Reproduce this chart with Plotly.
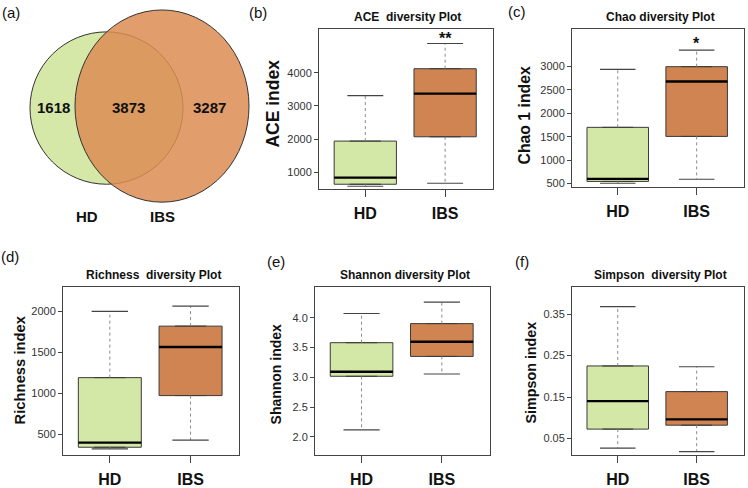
import plotly.graph_objects as go

W, H = 748, 488
FONT = "Liberation Sans, Arial, sans-serif"

# ---------------- data ----------------
groups = ["HD", "IBS"]
venn_counts = [1618, 3873, 3287]   # HD only, shared, IBS only
venn_sets = ["HD", "IBS"]

ace_stats = {"lower": [580, 670], "q1": [640, 2070], "median": [840, 3370], "q3": [1940, 4120], "upper": [3310, 4880]}
chao_stats = {"lower": [506, 591], "q1": [545, 1506], "median": [600, 2680], "q3": [1700, 2995], "upper": [2936, 3350]}
rich_stats = {"lower": [321, 427], "q1": [341, 972], "median": [398, 1565], "q3": [1191, 1820], "upper": [2000, 2065]}
shan_stats = {"lower": [2.12, 3.055], "q1": [3.017, 3.35], "median": [3.093, 3.595], "q3": [3.58, 3.90], "upper": [4.07, 4.26]}
simp_stats = {"lower": [0.0266, 0.018], "q1": [0.0725, 0.082], "median": [0.140, 0.096], "q3": [0.225, 0.163], "upper": [0.368, 0.223]}

ace_ticks = [1000, 2000, 3000, 4000]
chao_ticks = [500, 1000, 1500, 2000, 2500, 3000]
rich_ticks = [500, 1000, 1500, 2000]
shan_ticks = [2.0, 2.5, 3.0, 3.5, 4.0]
simp_ticks = [0.05, 0.15, 0.25, 0.35]

significance = ["**", "*", "", "", ""]

# ---------------- layout settings ----------------
panels = [
    dict(stats=ace_stats, ticks=ace_ticks, fmt="d", title="ACE  diversity Plot", ytitle="ACE index", ytsize=17.5,
         frame=(319, 493, 29, 190), yrange=[490, 5320], label="(b)", lpos=(258, 13), ytpos=(273, 104), sigy=5040),
    dict(stats=chao_stats, ticks=chao_ticks, fmt="d", title="Chao diversity Plot", ytitle="Chao 1 index", ytsize=15.8,
         frame=(572, 744, 29, 188), yrange=[421, 3802], label="(c)", lpos=(517, 12), ytpos=(525, 116), sigy=3500),
    dict(stats=rich_stats, ticks=rich_ticks, fmt="d", title="Richness  diversity Plot", ytitle="Richness index", ytsize=14.8,
         frame=(63, 239, 288, 457), yrange=[245, 2300], label="(d)", lpos=(10, 258), ytpos=(20, 372), sigy=None),
    dict(stats=shan_stats, ticks=shan_ticks, fmt=".1f", title="Shannon diversity Plot", ytitle="Shannon index", ytsize=14,
         frame=(315, 490, 288, 457), yrange=[1.695, 4.517], label="(e)", lpos=(276, 263), ytpos=(276, 376), sigy=None),
    dict(stats=simp_stats, ticks=simp_ticks, fmt=".2f", title="Simpson  diversity Plot", ytitle="Simpson index", ytsize=14.3,
         frame=(572, 744, 288, 457), yrange=[0.0097, 0.416], label="(f)", lpos=(522, 263), ytpos=(531, 374), sigy=None),
]

FILLS = ["#d3e7a6", "#d08452"]
XPOS = [1, 2]
BOXW = 0.78
CAPW = 0.45

fig = go.Figure()
annotations = []
shapes = []


def px2x(p):
    return p / W


def px2y(p):
    return 1 - p / H


def paper_text(text, x, y, size, bold=False, angle=0, color="#111"):
    f = dict(family=FONT, size=size, color=color)
    if bold:
        f["weight"] = "bold"
    return dict(text=text, x=px2x(x), y=px2y(y), xref="paper", yref="paper", xanchor="center",
                yanchor="middle", textangle=angle, showarrow=False, font=f)


for i, p in enumerate(panels):
    n = i + 1
    xa = "x" if n == 1 else f"x{n}"
    ya = "y" if n == 1 else f"y{n}"
    s = p["stats"]
    for g in range(2):
        x = XPOS[g]
        fig.add_trace(go.Box(
            x=[x], q1=[s["q1"][g]], median=[s["median"][g]], q3=[s["q3"][g]],
            lowerfence=[s["q1"][g]], upperfence=[s["q3"][g]],
            width=BOXW, fillcolor=FILLS[g], line=dict(color="#3a3a3a", width=1),
            xaxis=xa, yaxis=ya, showlegend=False, hoverinfo="skip", boxpoints=False))
        fig.add_trace(go.Scatter(
            x=[x - BOXW / 2, x + BOXW / 2], y=[s["median"][g]] * 2, mode="lines",
            line=dict(color="black", width=2.4), xaxis=xa, yaxis=ya, showlegend=False, hoverinfo="skip"))
        fig.add_trace(go.Scatter(
            x=[x, x, None, x, x], y=[s["q3"][g], s["upper"][g], None, s["q1"][g], s["lower"][g]],
            mode="lines", line=dict(color="#8a8a8a", width=1, dash="3px,3px"),
            xaxis=xa, yaxis=ya, showlegend=False, hoverinfo="skip"))
        fig.add_trace(go.Scatter(
            x=[x - CAPW / 2, x + CAPW / 2, None, x - CAPW / 2, x + CAPW / 2],
            y=[s["upper"][g]] * 2 + [None] + [s["lower"][g]] * 2,
            mode="lines", line=dict(color="#444444", width=1.2),
            xaxis=xa, yaxis=ya, showlegend=False, hoverinfo="skip"))
    l, r, t, b = p["frame"]
    axx = dict(domain=[px2x(l), px2x(r)], range=[0.42, 2.6], tickvals=XPOS, ticktext=groups,
               ticks="outside", ticklen=7, tickcolor="#444", tickwidth=1.2, ticklabelstandoff=3,
               tickfont=dict(family=FONT, size=16, color="#111", weight="bold"),
               showline=True, mirror=True, linecolor="#444", linewidth=1, showgrid=False,
               zeroline=False, anchor=ya, fixedrange=True)
    axy = dict(domain=[px2y(b), px2y(t)], range=p["yrange"], tickvals=p["ticks"],
               tickformat=p["fmt"], ticks="outside", ticklen=4, tickcolor="#444",
               tickfont=dict(family=FONT, size=11, color="#333"),
               showline=True, mirror=True, linecolor="#444", linewidth=1, showgrid=False,
               zeroline=False, anchor=xa, fixedrange=True)
    fig.update_layout(**{("xaxis" if n == 1 else f"xaxis{n}"): axx,
                         ("yaxis" if n == 1 else f"yaxis{n}"): axy})
    annotations.append(paper_text(p["title"], (l + r) / 2 + 2, t - 12, 12, bold=True))
    annotations.append(paper_text(p["ytitle"], p["ytpos"][0], p["ytpos"][1], p["ytsize"], bold=True, angle=-90))
    annotations.append(paper_text(p["label"], p["lpos"][0], p["lpos"][1], 15))
    if significance[i]:
        annotations.append(dict(text=significance[i], x=2, y=p["sigy"], xref=xa, yref=ya, showarrow=False,
                                xanchor="center", yanchor="middle",
                                font=dict(family=FONT, size=16, color="#111", weight="bold")))

# ---------------- Venn (a) ----------------
fig.update_layout(
    xaxis6=dict(domain=[0, 250 / W], range=[0, 250], visible=False, fixedrange=True, anchor="y6"),
    yaxis6=dict(domain=[1 - 240 / H, 1], range=[240, 0], visible=False, fixedrange=True, anchor="x6"),
)
fig.add_trace(go.Scatter(x=[0], y=[0], mode="markers", marker=dict(opacity=0), xaxis="x6", yaxis="y6",
                         showlegend=False, hoverinfo="skip"))
shapes.append(dict(type="circle", xref="x6", yref="y6", x0=30, x1=183, y0=32, y1=185,
                   fillcolor="#d5e8a8", line=dict(color="#333", width=1), layer="below"))
shapes.append(dict(type="circle", xref="x6", yref="y6", x0=75, x1=249, y0=10, y1=203,
                   fillcolor="rgba(220,140,82,0.85)", line=dict(color="#333", width=1), layer="below"))
venn_x = [53, 128, 209]
for cx, c in zip(venn_x, venn_counts):
    annotations.append(dict(text=str(c), x=cx, y=108, xref="x6", yref="y6", showarrow=False,
                            xanchor="center", yanchor="middle",
                            font=dict(family=FONT, size=15, color="#111", weight="bold")))
for cx, name in zip([87, 162], venn_sets):
    annotations.append(dict(text=name, x=cx, y=217, xref="x6", yref="y6", showarrow=False,
                            xanchor="center", yanchor="middle",
                            font=dict(family=FONT, size=15, color="#111", weight="bold")))
annotations.append(paper_text("(a)", 11, 13, 15))

fig.update_layout(
    width=W, height=H, margin=dict(l=0, r=0, t=0, b=0),
    paper_bgcolor="white", plot_bgcolor="white",
    annotations=annotations, shapes=shapes, showlegend=False,
)

fig.write_html("out.html", config={"displayModeBar": False},
               post_script="document.body.style.margin='0px';document.body.style.padding='0px';")
